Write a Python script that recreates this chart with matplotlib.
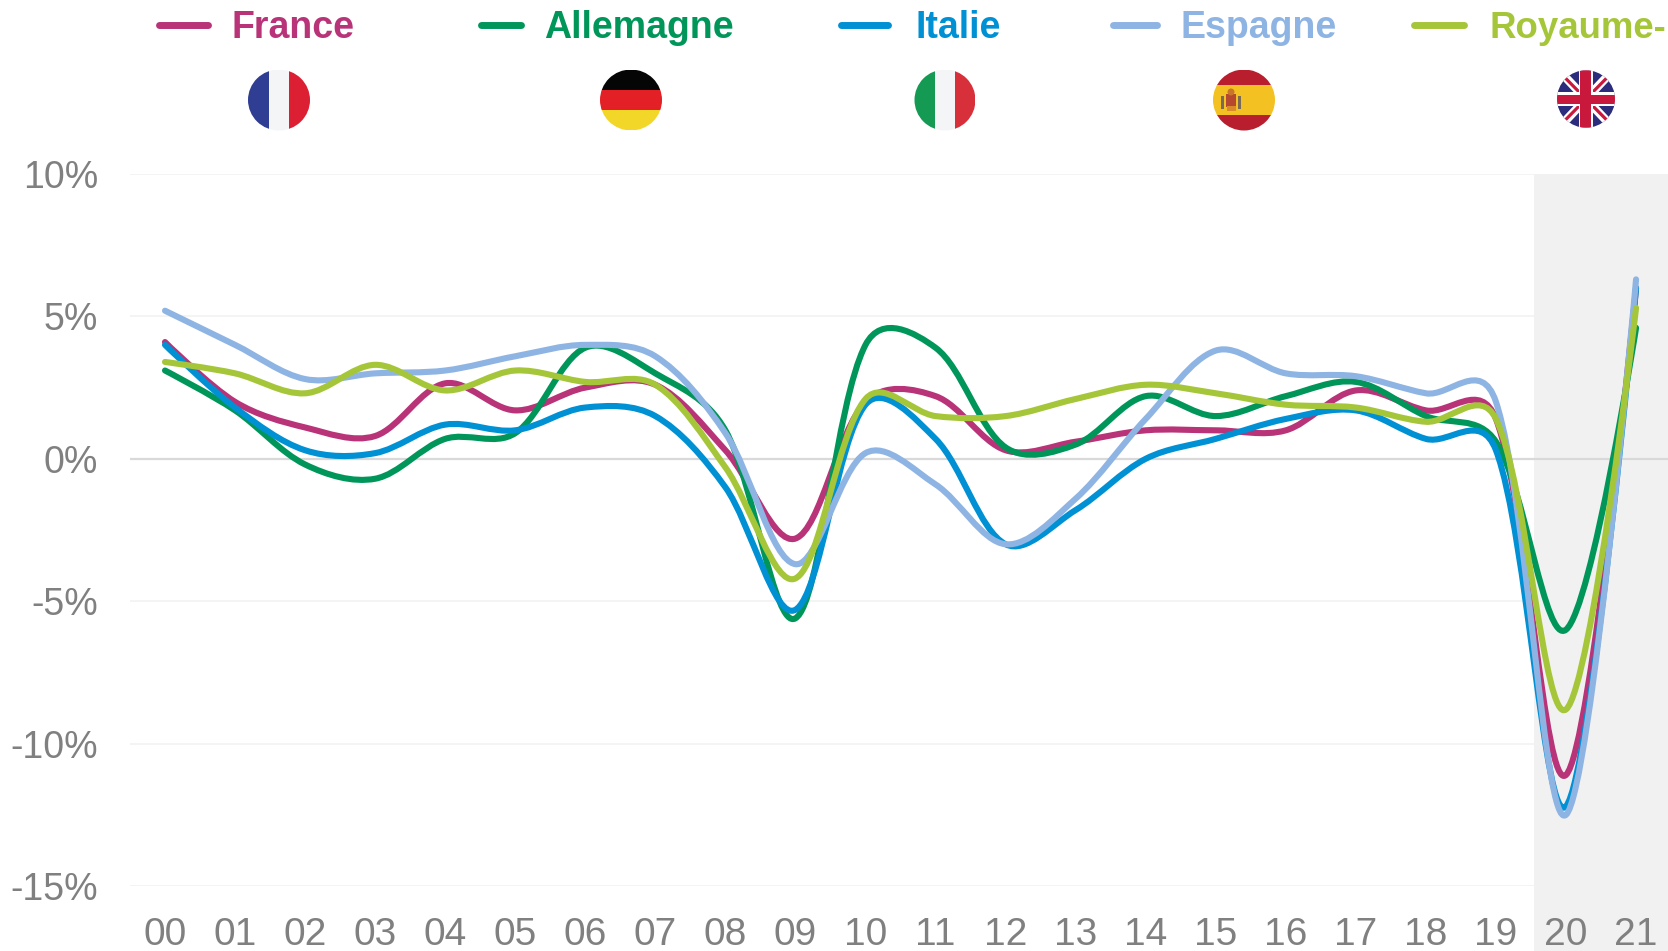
"""GDP growth, five European countries, 2000-2021 (smoothed lines, round flags on top)."""
import matplotlib
matplotlib.use("Agg")
import matplotlib.pyplot as plt
import numpy as np
from matplotlib.patches import Circle, Ellipse, PathPatch, Polygon, Rectangle
from matplotlib.path import Path

plt.rcParams["font.family"] = ["Liberation Sans", "DejaVu Sans"]

W, H = 1668, 951
PX_X, PX_Y = 70.05, 28.48  # pixels per year, per percentage point

year_labels = ["00", "01", "02", "03", "04", "05", "06", "07", "08", "09", "10",
               "11", "12", "13", "14", "15", "16", "17", "18", "19", "20", "21"]
y_ticks = [-15, -10, -5, 0, 5, 10]
y_tick_labels = ["-15%", "-10%", "-5%", "0%", "5%", "10%"]

france = [4.1, 2.0, 1.1, 0.8, 2.65, 1.7, 2.5, 2.6, 0.3, -2.8, 2.0,
          2.2, 0.3, 0.6, 1.0, 1.0, 1.0, 2.4, 1.7, 1.4, -11.1, 6.0]
allemagne = [3.1, 1.7, -0.2, -0.7, 0.7, 0.9, 3.9, 3.0, 1.0, -5.6, 4.0,
             3.9, 0.4, 0.5, 2.2, 1.5, 2.2, 2.7, 1.5, 0.6, -6.0, 4.6]
italie = [4.0, 1.8, 0.3, 0.2, 1.2, 1.0, 1.8, 1.5, -1.0, -5.3, 1.9,
          0.7, -3.0, -1.8, 0.0, 0.7, 1.4, 1.7, 0.7, 0.3, -12.2, 6.0]
espagne = [5.2, 4.0, 2.8, 3.0, 3.1, 3.6, 4.0, 3.6, 0.9, -3.7, 0.2,
           -0.9, -3.0, -1.4, 1.4, 3.8, 3.0, 2.9, 2.3, 2.0, -12.5, 6.3]
royaume = [3.4, 3.0, 2.3, 3.3, 2.4, 3.1, 2.7, 2.6, -0.3, -4.2, 2.1,
           1.5, 1.5, 2.1, 2.6, 2.3, 1.9, 1.8, 1.3, 1.4, -8.8, 5.3]

series = [
    ("France", france, "#B83378", 156, 212, 232, 27.0),
    ("Allemagne", allemagne, "#00965A", 478, 525, 544, 27.0),
    ("Italie", italie, "#0090D4", 838, 892, 916, 27.0),
    ("Espagne", espagne, "#8EB4E3", 1110, 1161, 1181, 27.0),
    ("Royaume-", royaume, "#A6C639", 1411, 1468, 1490, 26.4),
]

GREY = "#808080"


def smooth_path(xs, ys):
    """Smoothed line as Bezier segments; handle lengths sit halfway between
    uniform Catmull-Rom and chord-weighted, so steep drops overshoot only a bit."""
    pts = np.column_stack([xs, ys]).astype(float)
    scale = np.array([PX_X, PX_Y])
    d = np.hypot(*((pts[1:] - pts[:-1]) * scale).T)
    out_h = np.zeros_like(pts)
    in_h = np.zeros_like(pts)
    for i in range(1, len(pts) - 1):
        t = pts[i + 1] - pts[i - 1]
        out_h[i] = t * (1 / 6 + d[i] / (d[i - 1] + d[i]) / 3) / 2
        in_h[i] = t * (1 / 6 + d[i - 1] / (d[i - 1] + d[i]) / 3) / 2
    verts = [pts[0]]
    codes = [Path.MOVETO]
    for i in range(len(pts) - 1):
        verts += [pts[i] + out_h[i], pts[i + 1] - in_h[i + 1], pts[i + 1]]
        codes += [Path.CURVE4] * 3
    return Path(verts, codes)


fig = plt.figure(figsize=(W / 100, H / 100), dpi=100, facecolor="white")

# plot area: gridlines run from px 130, y axis 10% at px 174, -15% at px 886
ax = fig.add_axes([130 / W, 1 - 886 / H, (W - 130) / W, (886 - 174) / H])
x = np.arange(len(year_labels))
ax.set_xlim((130 - 165) / PX_X, (W - 165) / PX_X)
ax.set_ylim(-15, 10)
for s in ax.spines.values():
    s.set_visible(False)
ax.patch.set_alpha(0)
ax.set_axisbelow(False)

for v in y_ticks:
    if v != 0:
        ax.axhline(v, color="#F2F2F2", lw=1.2, zorder=1)
ax.axvspan(19.54, 23, ymin=-0.1, ymax=1.0, color="#F1F1F1", lw=0, zorder=2, clip_on=False)
ax.axhline(0, color="#D9D9D9", lw=1.6, zorder=3)

for name, vals, col, *_ in series:
    ax.add_patch(PathPatch(smooth_path(x, vals), fill=False, edgecolor=col, lw=4.4,
                           capstyle="round", joinstyle="round", zorder=4))

ax.set_xticks(x, year_labels)
ax.set_yticks(y_ticks, y_tick_labels)
ax.tick_params(axis="x", length=0, pad=22, labelsize=28, labelcolor=GREY)
ax.tick_params(axis="y", length=0, pad=23, labelsize=27, labelcolor=GREY)

# legend row and flags, placed in pixels on a full-figure overlay
top = fig.add_axes([0, 0, 1, 1])
top.set_xlim(0, W)
top.set_ylim(H, 0)
top.axis("off")

for name, vals, col, x0, x1, xt, size in series:
    top.plot([x0 + 3.5, x1 - 3.5], [25, 25], color=col, lw=5, solid_capstyle="round")
    top.text(xt, 38, name, color=col, fontsize=size, fontweight="bold", va="baseline", ha="left")


def flag_disc(cx, cy, rx, ry):
    return Ellipse((cx, cy), 2 * rx, 2 * ry, transform=top.transData, fc="none", ec="none")


def clipped(artist, disc):
    top.add_patch(artist)
    artist.set_clip_path(disc)


def stripes_v(cx, cy, rx, ry, cols):
    disc = flag_disc(cx, cy, rx, ry)
    top.add_patch(disc)
    w = 2 * rx / len(cols)
    for i, c in enumerate(cols):
        clipped(Rectangle((cx - rx + i * w, cy - ry), w, 2 * ry, fc=c, ec="none"), disc)


def stripes_h(cx, cy, rx, ry, cols, heights):
    disc = flag_disc(cx, cy, rx, ry)
    top.add_patch(disc)
    y = cy - ry
    for c, h in zip(cols, heights):
        clipped(Rectangle((cx - rx, y), 2 * rx, h * 2 * ry, fc=c, ec="none"), disc)
        y += h * 2 * ry
    return disc


stripes_v(279, 100, 31, 30.5, ["#2F3E93", "#F4F5F7", "#DD1F33"])
stripes_h(631, 100, 31, 30.5, ["#050505", "#E32026", "#F2D729"], [1 / 3, 1 / 3, 1 / 3])
stripes_v(945, 100, 30.5, 30.5, ["#149A52", "#F4F5F7", "#D7303A"])
stripes_h(1244, 100, 31, 30.5, ["#B81E2D", "#F4C122", "#B81E2D"], [0.25, 0.5, 0.25])

# Spanish crest, just a few specks at this size
top.add_patch(Rectangle((1226, 94), 10, 13, fc="#B5482E", ec="none"))
top.add_patch(Rectangle((1221, 96), 3, 13, fc="#7A6A55", ec="none"))
top.add_patch(Rectangle((1238, 96), 3, 13, fc="#7A6A55", ec="none"))
top.add_patch(Circle((1231, 92), 3.5, fc="#C9752A", ec="none"))
top.add_patch(Rectangle((1227, 106), 9, 5, fc="#D98A2B", ec="none"))

# Union Jack
cx, cy, rx, ry = 1586, 99, 29, 28.7
disc = flag_disc(cx, cy, rx, ry)
top.add_patch(disc)
clipped(Rectangle((cx - rx, cy - ry), 2 * rx, 2 * ry, fc="#2B2C7C", ec="none"), disc)
for sx, sy in [(1, 1), (1, -1)]:
    a = (cx - sx * rx, cy - sy * ry)
    b = (cx + sx * rx, cy + sy * ry)
    clipped(Polygon([(a[0] - 4, a[1]), (a[0] + 4 * sx, a[1] - 4 * sy), (b[0] + 4, b[1]),
                     (b[0] - 4 * sx, b[1] + 4 * sy)], fc="white", ec="none"), disc)
    clipped(Polygon([(a[0] - 1.5, a[1]), (a[0] + 1.5 * sx, a[1] - 1.5 * sy), (b[0] + 1.5, b[1]),
                     (b[0] - 1.5 * sx, b[1] + 1.5 * sy)], fc="#C8193C", ec="none"), disc)
clipped(Rectangle((cx - 7, cy - ry), 14, 2 * ry, fc="white", ec="none"), disc)
clipped(Rectangle((cx - rx, cy - 7), 2 * rx, 14, fc="white", ec="none"), disc)
clipped(Rectangle((cx - 5.5, cy - ry), 11, 2 * ry, fc="#C8193C", ec="none"), disc)
clipped(Rectangle((cx - rx, cy - 4.5), 2 * rx, 9, fc="#C8193C", ec="none"), disc)

fig.savefig("out.png", dpi=100)
